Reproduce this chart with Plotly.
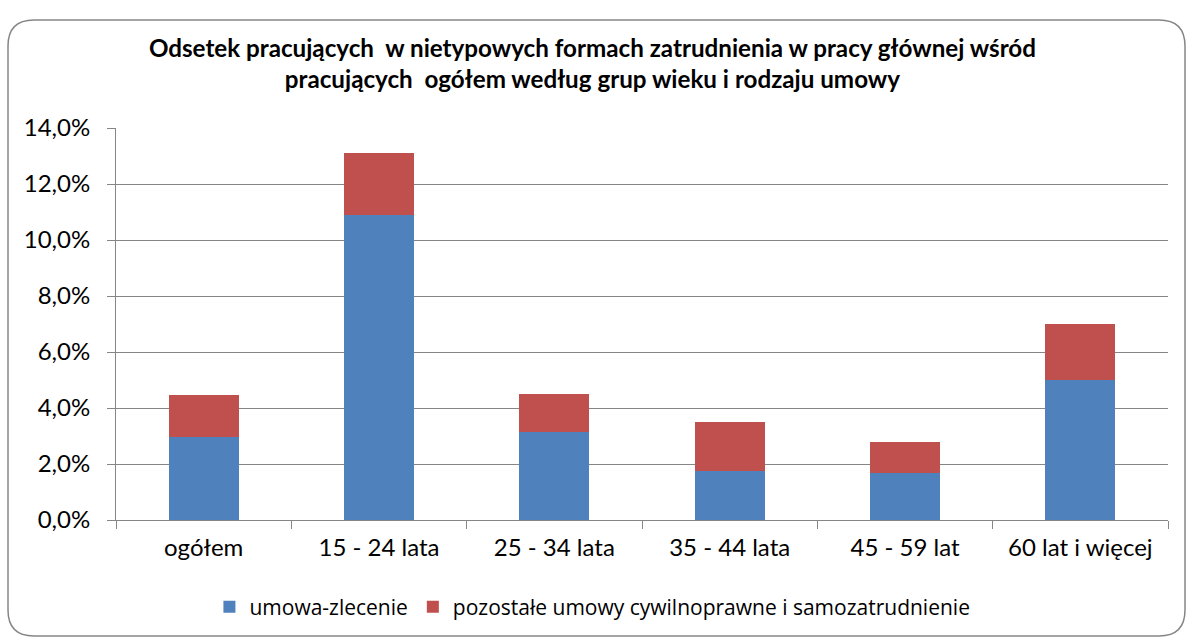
import plotly.graph_objects as go

categories = ["ogółem", "15 - 24 lata", "25 - 34 lata", "35 - 44 lata", "45 - 59 lat", "60 lat i więcej"]
umowa_zlecenie = [2.95, 10.9, 3.15, 1.75, 1.68, 5.0]
pozostale_total = [4.45, 13.1, 4.5, 3.5, 2.8, 7.0]
pozostale = [round(t - u, 2) for t, u in zip(pozostale_total, umowa_zlecenie)]
y_ticks = [0, 2, 4, 6, 8, 10, 12, 14]
y_tick_labels = ["0,0%", "2,0%", "4,0%", "6,0%", "8,0%", "10,0%", "12,0%", "14,0%"]

W, H = 1192, 642
L, R, T, B = 116, 1168, 128, 520
FONT = "Lato, Carlito, Calibri, sans-serif"

fig = go.Figure()
fig.add_trace(go.Bar(x=categories, y=umowa_zlecenie, name="umowa-zlecenie",
                     marker=dict(color="#4F81BD", line=dict(width=0))))
fig.add_trace(go.Bar(x=categories, y=pozostale, name="pozostałe umowy cywilnoprawne i samozatrudnienie",
                     marker=dict(color="#C0504D", line=dict(width=0))))

def px(x):
    return (x - L) / (R - L)

def py(y):
    return (B - y) / (B - T)

x0, x1, y0, y1, r = 8, 1185, 20, 636, 26
path = (f"M {px(x0+r)},{py(y0)} L {px(x1-r)},{py(y0)} Q {px(x1)},{py(y0)} {px(x1)},{py(y0+r)} "
        f"L {px(x1)},{py(y1-r)} Q {px(x1)},{py(y1)} {px(x1-r)},{py(y1)} "
        f"L {px(x0+r)},{py(y1)} Q {px(x0)},{py(y1)} {px(x0)},{py(y1-r)} "
        f"L {px(x0)},{py(y0+r)} Q {px(x0)},{py(y0)} {px(x0+r)},{py(y0)} Z")

fig.update_layout(
    width=W, height=H,
    barmode="stack", bargap=0.6,
    paper_bgcolor="white", plot_bgcolor="white",
    margin=dict(l=L, r=W - R, t=T, b=H - B, pad=0),
    font=dict(family=FONT, color="#000000"),
    title=dict(
        text="<b>Odsetek pracujących  w nietypowych formach zatrudnienia w pracy głównej wśród<br>pracujących  ogółem według grup wieku i rodzaju umowy</b>",
        x=0.497, xref="container", xanchor="center",
        y=1 - 57 / H, yref="container", yanchor="middle",
        font=dict(size=24.2, family=FONT, color="#000000"),
    ),
    xaxis=dict(
        type="category", tickson="boundaries", ticks="outside", ticklen=8,
        tickcolor="#868686", showline=True, linecolor="#868686", linewidth=1,
        showgrid=False, tickfont=dict(size=24, family=FONT, color="#000000"),
        ticklabelstandoff=6,
    ),
    yaxis=dict(
        range=[0, 14], tickvals=y_ticks, ticktext=y_tick_labels,
        ticks="outside", ticklen=8, tickcolor="#868686",
        showline=True, linecolor="#868686", linewidth=1,
        showgrid=True, gridcolor="#868686", gridwidth=1, zeroline=False,
        tickfont=dict(size=24, family=FONT, color="#000000"),
        ticklabelstandoff=12,
    ),
    legend=dict(
        orientation="h", x=0.497, xref="container", xanchor="center",
        y=1 - 607 / H, yref="container", yanchor="middle",
        font=dict(size=21, family="Open Sans, sans-serif", color="#000000"),
        itemwidth=30, tracegroupgap=0, traceorder="normal",
    ),
    shapes=[dict(type="path", path=path, xref="paper", yref="paper",
                 line=dict(color="#868686", width=1.5), fillcolor="rgba(0,0,0,0)", layer="below")],
)

fig.write_html("out.html", config={"displayModeBar": False},
               post_script="document.body.style.margin='0';document.body.style.padding='0';")
